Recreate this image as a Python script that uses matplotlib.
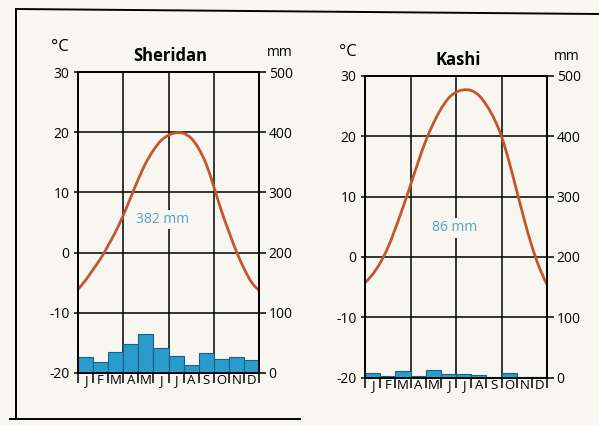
import matplotlib
matplotlib.use("Agg")
import matplotlib.pyplot as plt
import numpy as np
from matplotlib.lines import Line2D
from matplotlib.path import Path
from matplotlib.patches import PathPatch

plt.rcParams['font.family'] = ['Open Sans', 'DejaVu Sans']

months = ["J", "F", "M", "A", "M", "J", "J", "A", "S", "O", "N", "D"]

# monthly precipitation (mm)
sheridan_precip = [26, 18, 35, 48, 64, 42, 29, 14, 33, 24, 27, 22]
kashi_precip = [8, 3, 11, 2, 13, 5, 5, 4, 1, 8, 1, 1]

# temperature curve, sampled every half month from start of Jan to end of Dec (degC)
curve_t = np.arange(0, 12.5, 0.5)
sheridan_temp = [-6.1, -4.6, -2.8, -1.0, 1.2, 3.5, 6.2, 9.2, 12.2, 14.9, 17.0, 18.6, 19.5,
                 19.9, 19.8, 19.0, 17.3, 14.7, 11.0, 7.0, 3.5, 0.2, -2.6, -4.9, -6.3]
kashi_temp = [-4.3, -2.9, -1.0, 1.5, 4.7, 8.2, 11.9, 15.7, 19.2, 22.1, 24.5, 26.3, 27.3,
              27.7, 27.6, 26.8, 25.2, 23.0, 20.0, 15.8, 11.0, 6.2, 1.8, -1.8, -4.6]

temp_ticks = [-20, -10, 0, 10, 20, 30]
mm_ticks = [0, 100, 200, 300, 400, 500]

bg = '#f7f6f1'
bar_col = '#2a9bcd'
curve_col = '#c4562f'
label_col = '#5aa3c2'

fig = plt.figure(figsize=(5.99, 4.25), dpi=100, facecolor=bg)


def smooth_path(x, y):
    # Catmull-Rom through the samples, written as cubic Bezier segments
    pts = np.column_stack([x, y])
    n = len(pts)
    verts = [pts[0]]
    codes = [Path.MOVETO]
    for i in range(n - 1):
        p0 = pts[max(i - 1, 0)]
        p1 = pts[i]
        p2 = pts[i + 1]
        p3 = pts[min(i + 2, n - 1)]
        verts += [p1 + (p2 - p0) / 6, p2 - (p3 - p1) / 6, p2]
        codes += [Path.CURVE4] * 3
    return Path(verts, codes)


def climate_panel(rect, name, temps, precip, total, label_pos, hdr):
    ax = fig.add_axes(rect)
    ax.set_facecolor('none')
    ax.set_xlim(0, 12)
    ax.set_ylim(-20, 30)
    for v in [3, 6, 9]:
        ax.axvline(v, color='black', lw=1.1, zorder=1)
    for v in [-10, 0, 10, 20]:
        ax.axhline(v, color='black', lw=1.1, zorder=1)
    ax.add_patch(PathPatch(smooth_path(curve_t, temps), facecolor='none',
                           edgecolor=curve_col, lw=2.0, zorder=4))

    ax.set_yticks(temp_ticks)
    ax.set_yticklabels([str(t) for t in temp_ticks], fontsize=10)
    ax.tick_params(axis='y', length=3, width=1.1, pad=3)
    ax.set_xticks(np.arange(12) + 0.5)
    ax.set_xticklabels(months, fontsize=9.5)
    ax.set_xticks(np.arange(13), minor=True)
    ax.tick_params(axis='x', which='major', length=0, pad=1)
    ax.tick_params(axis='x', which='minor', length=7, width=1.1)
    for s in ax.spines.values():
        s.set_linewidth(1.3)

    ax2 = ax.twinx()
    ax2.set_ylim(0, 500)
    ax2.bar(np.arange(12), precip, width=1, align='edge', color=bar_col,
            edgecolor='#1d5f7e', linewidth=0.8, zorder=2)
    ax2.set_yticks(mm_ticks)
    ax2.set_yticklabels([str(t) for t in mm_ticks], fontsize=10)
    ax2.tick_params(axis='y', length=5, width=1.1, pad=2)
    for s in ax2.spines.values():
        s.set_linewidth(1.3)

    ax.text(label_pos[0], label_pos[1], f"{total} mm", color=label_col, fontsize=10,
            ha='center', va='center', zorder=5,
            bbox=dict(facecolor=bg, edgecolor='none', pad=1.5))

    # headers above the axes
    (cx, cy), (tx, ty), (mx, my) = hdr
    fig.text(cx / 599, 1 - cy / 425, "°C", fontsize=12, ha='center', va='center')
    fig.text(tx / 599, 1 - ty / 425, name, fontsize=12, fontweight='bold',
             ha='center', va='center')
    fig.text(mx / 599, 1 - my / 425, "mm", fontsize=10, ha='center', va='center')
    return ax


climate_panel([78 / 599, 1 - 373 / 425, 181 / 599, 301 / 425], "Sheridan",
              sheridan_temp, sheridan_precip, 382, (5.6, 5.5),
              ((60, 47), (170, 56), (280, 52)))
climate_panel([365 / 599, 1 - 377.5 / 425, 182 / 599, 301.5 / 425], "Kashi",
              kashi_temp, kashi_precip, 86, (5.9, 4.8),
              ((348, 52), (458, 60), (567, 56)))

# page frame
fw, fh = 599, 425
fig.add_artist(Line2D([16 / fw, 16 / fw], [1 - 9 / fh, 1 - 419 / fh],
                      transform=fig.transFigure, color='black', lw=1.4))
fig.add_artist(Line2D([16 / fw, 1.0], [1 - 9 / fh, 1 - 14 / fh],
                      transform=fig.transFigure, color='black', lw=1.4))
fig.add_artist(Line2D([10 / fw, 300 / fw], [1 - 419 / fh, 1 - 419 / fh],
                      transform=fig.transFigure, color='black', lw=1.4))

fig.savefig("out.png", dpi=100, facecolor=bg)
